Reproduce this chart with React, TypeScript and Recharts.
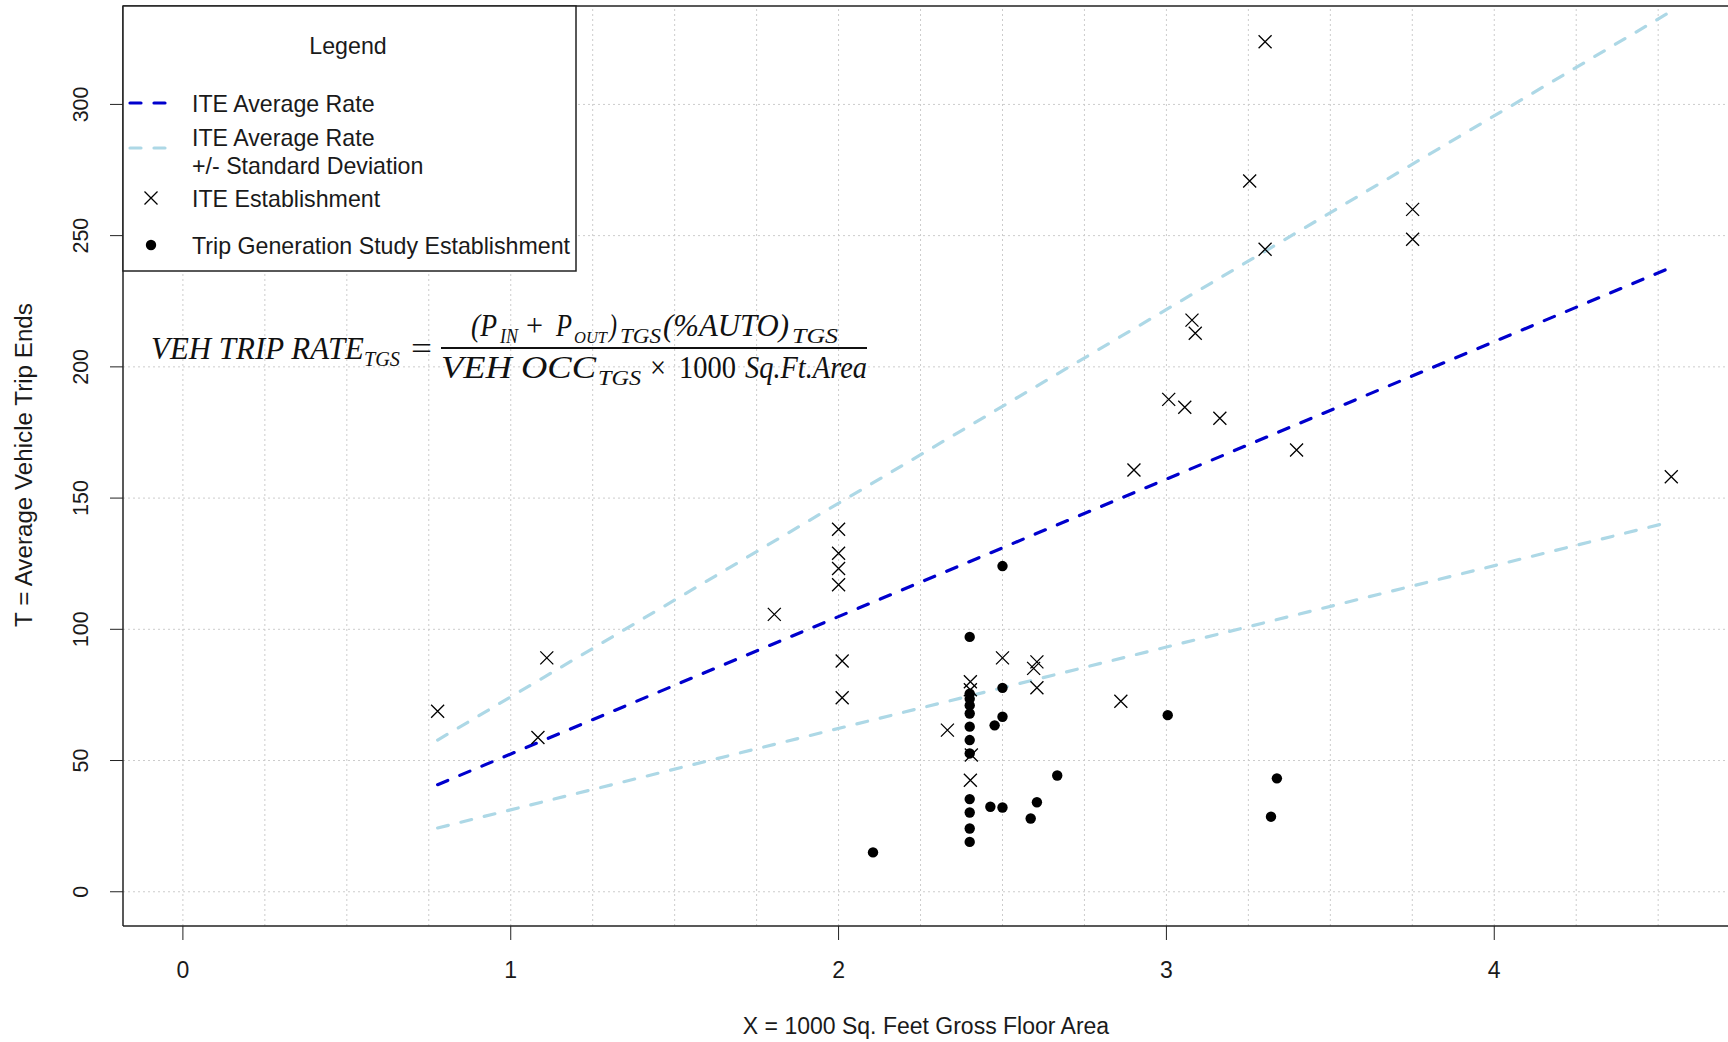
import { ScatterChart, Scatter, XAxis, YAxis, ReferenceLine } from "recharts";

// ITE establishments (x = 1000 sq ft GFA, y = trip ends)
const iteX = [
  0.777, 1.083, 1.11, 1.804, 2.0, 2.0, 2.0, 2.0, 2.011, 2.011, 2.332, 2.402,
  2.402, 2.405, 2.402, 2.5, 2.605, 2.595, 2.605, 2.861, 2.901, 3.007, 3.056,
  3.078, 3.088, 3.163, 3.254, 3.301, 3.301, 3.397, 3.751, 3.751, 4.54,
];
const iteY = [
  68.8, 58.8, 89.1, 105.7, 138.1, 129.0, 123.2, 117.0, 87.9, 73.9, 61.6, 80.0,
  77.0, 52.1, 42.5, 89.1, 87.6, 85.1, 77.7, 72.6, 160.7, 187.6, 184.6, 217.8,
  212.8, 180.4, 270.8, 323.9, 244.8, 168.3, 260.0, 248.6, 158.1,
];

// trip generation study establishments
const tgsX = [
  2.105, 2.4, 2.4, 2.4, 2.4, 2.4, 2.4, 2.4, 2.4, 2.4, 2.4, 2.4, 2.4, 2.463,
  2.476, 2.5, 2.5, 2.5, 2.5, 2.586, 2.605, 2.667, 3.004, 3.319, 3.337,
];
const tgsY = [
  15.0, 97.1, 75.5, 73.5, 71.0, 67.9, 62.9, 57.8, 52.7, 35.3, 30.2, 24.1, 19.0,
  32.4, 63.4, 124.1, 77.7, 66.7, 32.1, 27.9, 34.1, 44.3, 67.3, 28.6, 43.2,
];

// rate lines
const lineX = [0.777, 4.54];
const avgRate = [40.8, 237.9];
const rateHigh = [57.8, 335.5];
const rateLow = [24.3, 141.0];

const xTicks = [0, 1, 2, 3, 4];
const yTicks = [0, 50, 100, 150, 200, 250, 300];
const xGrid = [
  0, 0.25, 0.5, 0.75, 1, 1.25, 1.5, 1.75, 2, 2.25, 2.5, 2.75, 3, 3.25, 3.5,
  3.75, 4, 4.25, 4.5,
];

const zip = (xs: number[], ys: number[]) => xs.map((x, i) => ({ x, y: ys[i] }));

const iteData = zip(iteX, iteY);
const tgsData = zip(tgsX, tgsY);
const avgData = zip(lineX, avgRate);
const highData = zip(lineX, rateHigh);
const lowData = zip(lineX, rateLow);

const SANS = "'Liberation Sans', Arial, sans-serif";
const SERIF = "'Liberation Serif', 'Times New Roman', serif";
const DARK_BLUE = "#0000cd";
const LIGHT_BLUE = "#add8e6";
const GRID = "#cccccc";
const INK = "#1a1a1a";

const Cross = (props: any) => {
  const { cx, cy } = props;
  const s = 6.5;
  return (
    <path
      d={`M${cx - s},${cy - s}L${cx + s},${cy + s}M${cx - s},${cy + s}L${cx + s},${cy - s}`}
      stroke="#000"
      strokeWidth={1.3}
      fill="none"
    />
  );
};

const Dot = (props: any) => <circle cx={props.cx} cy={props.cy} r={5.2} fill="#000" />;

const Nothing = () => <g />;

const YTick = (props: any) => {
  const { x, y, payload } = props;
  return (
    <text
      x={x}
      y={y}
      transform={`rotate(-90 ${x} ${y})`}
      textAnchor="middle"
      fontSize={21.5}
      fontFamily={SANS}
      fill={INK}
    >
      {payload.value}
    </text>
  );
};

const dash = { strokeWidth: 3.2, strokeDasharray: "11 13", strokeLinecap: "round" as const };

// pieces of the equation: text, x, baseline, size, width, italic
const eq: [string, number, number, number, number, boolean][] = [
  ["VEH TRIP RATE", 151, 359, 31, 213, true],
  ["TGS", 364, 366, 21, 36, true],
  ["=", 411, 359, 31, 21, false],
  ["(P", 471, 336, 31, 26, true],
  ["IN", 500, 343, 20, 18, true],
  ["+", 526, 336, 31, 17, false],
  ["P", 556, 336, 31, 16, true],
  ["OUT", 574, 343, 17, 33, true],
  [")", 609, 336, 31, 8, true],
  ["TGS", 620, 343, 21, 41, true],
  ["(%AUTO)", 663, 336, 31, 126, true],
  ["TGS", 792, 343, 21, 46, true],
  ["VEH OCC", 441, 378, 31, 155, true],
  ["TGS", 598, 385, 21, 43, true],
  ["×", 650, 378, 31, 16, false],
  ["1000", 679, 378, 31, 57, false],
  ["Sq.Ft.Area", 745, 378, 31, 122, true],
];

const Overlay = () => (
  <svg
    width={1728}
    height={1042}
    style={{ position: "absolute", left: 0, top: 0, pointerEvents: "none" }}
  >
    {/* top border of plot box */}
    <line x1={123} y1={6} x2={1728} y2={6} stroke="#222" strokeWidth={1.5} />

    {/* legend */}
    <rect x={123} y={6} width={453} height={265} fill="#fff" stroke="#222" strokeWidth={1.5} />
    <g fontFamily={SANS} fontSize={23.2} fill={INK}>
      <text x={348} y={54} textAnchor="middle">Legend</text>
      <text x={192} y={112}>ITE Average Rate</text>
      <text x={192} y={146}>ITE Average Rate</text>
      <text x={192} y={174}>+/- Standard Deviation</text>
      <text x={192} y={207}>ITE Establishment</text>
      <text x={192} y={254}>Trip Generation Study Establishment</text>
    </g>
    <line x1={130} y1={103} x2={166} y2={103} stroke={DARK_BLUE} {...dash} />
    <line x1={130} y1={148} x2={166} y2={148} stroke={LIGHT_BLUE} {...dash} />
    <Cross cx={151} cy={198} />
    <Dot cx={151} cy={245} />

    {/* equation */}
    <g fontFamily={SERIF} fill="#111">
      {eq.map(([t, x, y, s, w, it], i) => (
        <text
          key={i}
          x={x}
          y={y}
          fontSize={s}
          fontStyle={it ? "italic" : "normal"}
          textLength={w}
          lengthAdjust="spacingAndGlyphs"
        >
          {t}
        </text>
      ))}
      <line x1={441} y1={348} x2={867} y2={348} stroke="#111" strokeWidth={2} />
    </g>

    {/* axis titles */}
    <text x={926} y={1034} textAnchor="middle" fontFamily={SANS} fontSize={23} fill={INK}>
      X = 1000 Sq. Feet Gross Floor Area
    </text>
    <text
      x={32}
      y={465}
      transform="rotate(-90 32 465)"
      textAnchor="middle"
      fontFamily={SANS}
      fontSize={24.2}
      fill={INK}
    >
      T = Average Vehicle Trip Ends
    </text>
  </svg>
);

export default function App() {
  return (
    <div
      style={{
        position: "absolute",
        left: 0,
        top: 0,
        width: 1728,
        height: 1042,
        overflow: "hidden",
        background: "#fff",
      }}
    >
      <ScatterChart
        width={1728}
        height={1042}
        margin={{ top: 6, right: 0, bottom: 86, left: 63 }}
      >
        <XAxis
          type="number"
          dataKey="x"
          domain={[-0.1827, 4.713]}
          allowDataOverflow
          ticks={xTicks}
          interval={0}
          height={30}
          tickSize={14}
          tickMargin={22}
          axisLine={{ stroke: "#222", strokeWidth: 1.5 }}
          tickLine={{ stroke: "#222", strokeWidth: 1 }}
          tick={{ fontSize: 23, fontFamily: SANS, fill: INK }}
        />
        <YAxis
          type="number"
          dataKey="y"
          domain={[-13.05, 337.5]}
          allowDataOverflow
          ticks={yTicks}
          interval={0}
          width={60}
          tickSize={13}
          tickMargin={22}
          axisLine={{ stroke: "#222", strokeWidth: 1.5 }}
          tickLine={{ stroke: "#222", strokeWidth: 1 }}
          tick={<YTick />}
        />
        <Scatter
          data={highData}
          line={{ stroke: LIGHT_BLUE, ...dash }}
          shape={<Nothing />}
          isAnimationActive={false}
        />
        <Scatter
          data={lowData}
          line={{ stroke: LIGHT_BLUE, ...dash }}
          shape={<Nothing />}
          isAnimationActive={false}
        />
        <Scatter
          data={avgData}
          line={{ stroke: DARK_BLUE, ...dash }}
          shape={<Nothing />}
          isAnimationActive={false}
        />
        <Scatter data={iteData} shape={<Cross />} isAnimationActive={false} />
        <Scatter data={tgsData} shape={<Dot />} isAnimationActive={false} />
        {xGrid.map((v) => (
          <ReferenceLine key={`gx${v}`} x={v} stroke={GRID} strokeDasharray="2 3" />
        ))}
        {yTicks.map((v) => (
          <ReferenceLine key={`gy${v}`} y={v} stroke={GRID} strokeDasharray="2 3" />
        ))}
      </ScatterChart>
      <Overlay />
    </div>
  );
}
